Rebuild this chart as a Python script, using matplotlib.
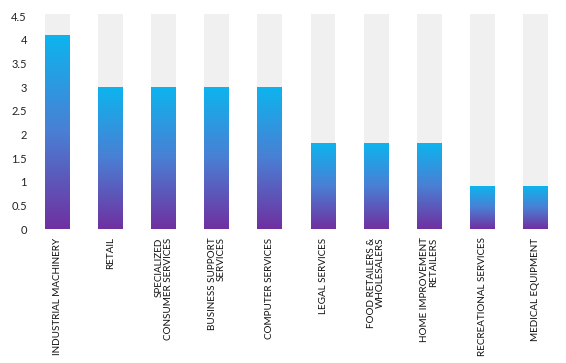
import matplotlib.pyplot as plt
from matplotlib.colors import LinearSegmentedColormap
import numpy as np

############################################
#   Data
############################################
categories = ['INDUSTRIAL MACHINERY', 'RETAIL', 'SPECIALIZED\nCONSUMER SERVICES',
              'BUSINESS SUPPORT\nSERVICES', 'COMPUTER SERVICES', 'LEGAL SERVICES',
              'FOOD RETAILERS &\nWHOLESALERS', 'HOME IMPROVEMENT\nRETAILERS',
              'RECREATIONAL SERVICES', 'MEDICAL EQUIPMENT']
values     = [4.1, 3.0, 3.0, 3.0, 3.0, 1.8, 1.8, 1.8, 0.9, 0.9]
background = 4.55
yticks     = [0, 0.5, 1, 1.5, 2, 2.5, 3, 3.5, 4, 4.5]
ytick_labels = ['0', '0.5', '1', '1.5', '2', '2.5', '3', '3.5', '4', '4.5']

############################################
#   Figure setup
############################################
plt.rcParams['font.family'] = ['Lato', 'DejaVu Sans']
fig = plt.figure(figsize=(5.66, 3.63), dpi=100, facecolor='white')
ax = fig.add_axes([0.0548, 0.369, 0.938, 0.5995])

x = np.arange(len(values))
width = 0.47
cmap = LinearSegmentedColormap.from_list('grad', ['#7030a0', '#4a7fd4', '#0db4ee'])
grad = np.linspace(0, 1, 256).reshape(-1, 1)

# light grey track behind each bar
ax.bar(x, [background] * len(x), width=width, color='#f0f0f0', zorder=0)

# gradient bars, full gradient for each bar
for xi, v in zip(x, values):
    ax.imshow(grad, extent=(xi - width / 2, xi + width / 2, 0, v),
              origin='lower', aspect='auto', cmap=cmap, zorder=1)

ax.set_xlim(-0.5, len(x) - 0.5)
ax.set_ylim(0, 4.6)

for s in ax.spines.values():
    s.set_visible(False)

ax.set_yticks(yticks)
ax.set_yticklabels(ytick_labels, fontsize=8, color='#222222')
ax.tick_params(axis='y', length=0, pad=3)
ax.set_xticks(x)
ax.set_xticklabels(categories, rotation=90, fontsize=7.1, color='#111111',
                   ha='center', va='top', multialignment='right',
                   linespacing=1.0)
ax.tick_params(axis='x', length=0, pad=6)

fig.savefig('out.png', dpi=100, facecolor='white')
